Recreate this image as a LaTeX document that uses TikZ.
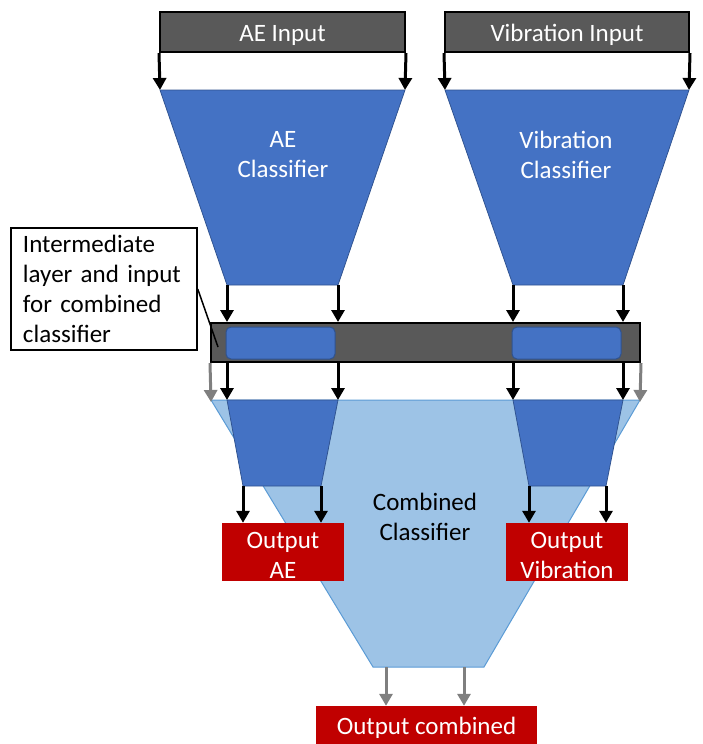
\documentclass[tikz,border=0pt]{standalone}
\usepackage{fontspec}
\setmainfont{Carlito}
\usetikzlibrary{arrows.meta}
\definecolor{boxgray}{HTML}{595959}
\definecolor{classblue}{HTML}{4472C4}
\definecolor{edgeblue}{HTML}{2F528F}
\definecolor{lightblue}{HTML}{9DC3E6}
\definecolor{lightedge}{HTML}{5B9BD5}
\definecolor{outred}{HTML}{C00000}
\definecolor{arrowgray}{HTML}{7F7F7F}
\tikzset{
  txt/.style={font=\fontsize{25}{30}\selectfont, align=center},
  inbox/.style={draw=black, line width=2pt, fill=boxgray, inner sep=0pt},
  intext/.style={txt, text=white, yshift=-3pt},
  outbox/.style={fill=outred, inner sep=0pt},
  layerbox/.style={fill=classblue, draw=edgeblue, line width=1pt, rounded corners=5pt, inner sep=0pt},
  feed/.style={-{Triangle[width=13pt,length=12pt]}, line width=3pt, black},
  greyfeed/.style={feed, arrowgray},
  classfill/.style={fill=classblue, draw=edgeblue, line width=0.75pt},
}
\begin{document}
\begin{tikzpicture}[x=1pt,y=-1pt]
\useasboundingbox (0,0) rectangle (703,744);
% corner points of the classifiers
\coordinate (aeTL) at (160,90);  \coordinate (aeTR) at (405,90);
\coordinate (aeBL) at (227,285); \coordinate (aeBR) at (338,285);
\coordinate (viTL) at (445,90);  \coordinate (viTR) at (689,90);
\coordinate (viBL) at (513,285); \coordinate (viBR) at (623,285);
\coordinate (coTL) at (211,400); \coordinate (coTR) at (640,400);
\coordinate (coBL) at (373,667); \coordinate (coBR) at (484,667);
\coordinate (saBL) at (243,486); \coordinate (saBR) at (321,486);
\coordinate (svBL) at (529,486); \coordinate (svBR) at (606,486);
\coordinate (coOL) at (386,667); \coordinate (coOR) at (464,667);
% inputs
\node[inbox, minimum width=245pt, minimum height=40pt,
  label={[intext]center:AE Input}] (aein) at (282.5,32) {};
\node[inbox, minimum width=244pt, minimum height=40pt,
  label={[intext]center:Vibration Input}] (viin) at (567,32) {};
\draw[feed] (aein.south west) -- (aeTL);
\draw[feed] (aein.south east) -- (aeTR);
\draw[feed] (viin.south west) -- (viTL);
\draw[feed] (viin.south east) -- (viTR);
% single classifiers
\draw[classfill] (aeTL) -- (aeTR) -- (aeBR) -- (aeBL) -- cycle;
\draw[classfill] (viTL) -- (viTR) -- (viBR) -- (viBL) -- cycle;
\node[txt, text=white] (aecl) at (283,155) {AE\\Classifier};
\node[txt, text=white] (vicl) at (566,155) {Vibration\\Classifier};
% intermediate layer
\node[draw=black, line width=2pt, fill=boxgray, minimum width=429pt, minimum height=39pt, inner sep=0pt] (bar) at (425.5,342.5) {};
\node[layerbox, minimum width=109pt, minimum height=32pt] (aelay) at (280.5,343) {};
\node[layerbox, minimum width=109pt, minimum height=32pt] (vilay) at (566.5,343) {};
\foreach \c in {aeBL,aeBR,viBL,viBR}
  \draw[feed] (\c) -- (\c |- bar.north);
% combined classifier
\draw[fill=lightblue, draw=lightedge, line width=1pt] (coTL) -- (coTR) -- (coBR) -- (coBL) -- cycle;
\draw[classfill] (aeBL |- coTL) -- (aeBR |- coTL) -- (saBR) -- (saBL) -- cycle;
\draw[classfill] (viBL |- coTL) -- (viBR |- coTL) -- (svBR) -- (svBL) -- cycle;
\foreach \c in {aeBL,aeBR,viBL,viBR}
  \draw[feed] (\c |- bar.south) -- (\c |- coTL);
\draw[greyfeed] (bar.south west) -- ([yshift=-2pt]coTL);
\draw[greyfeed] (bar.south east) -- ([yshift=-2pt]coTR);
\node[txt] (cocl) at (425,517) {Combined\\Classifier};
% outputs
\node[outbox, minimum width=122pt, minimum height=58pt,
  label={[intext]center:Output\\AE}] (outae) at (283,552) {};
\node[outbox, minimum width=122pt, minimum height=58pt,
  label={[intext]center:Output\\Vibration}] (outvi) at (567,552) {};
\node[outbox, minimum width=221pt, minimum height=38pt,
  label={[intext]center:Output combined}] (outco) at (426.5,725) {};
\foreach \c in {saBL,saBR}
  \draw[feed] (\c) -- (\c |- outae.north);
\foreach \c in {svBL,svBR}
  \draw[feed] (\c) -- (\c |- outvi.north);
\foreach \c in {coOL,coOR}
  \draw[greyfeed] (\c) -- (\c |- outco.north);
% callout
\node[txt, align=left, draw=black, line width=1.5pt, fill=white, text width=162pt,
  inner xsep=12pt, minimum height=122pt] (note) at (104,289)
  {Intermediate\\layer and input\\for combined\\classifier};
\coordinate (notetip) at (218,347);
\draw[line width=1.5pt] (note.east) -- (notetip);
\end{tikzpicture}
\end{document}
